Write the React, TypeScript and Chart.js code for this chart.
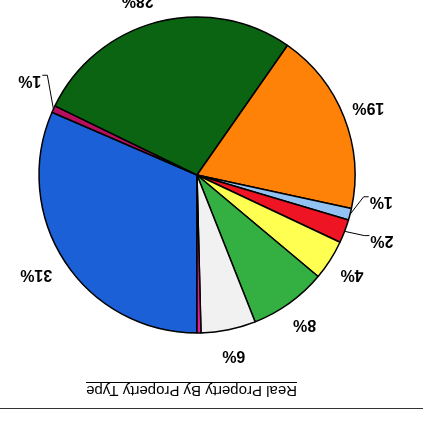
import React, { useEffect, useRef } from "react";
import { Chart, registerables } from "chart.js";

Chart.register(...registerables);

const chartTitle = "Real Property By Property Type";
const categories = [
  "Type 1", "Type 2", "Type 3", "Type 4", "Type 5",
  "Type 6", "Type 7", "Type 8", "Type 9", "Type 10",
];
const shares = [31.5, 0.7, 27.5, 18.7, 1.2, 2.4, 4.1, 7.9, 5.6, 0.4];
const pctLabels = ["31%", "1%", "28%", "19%", "1%", "2%", "4%", "8%", "6%", ""];
const sliceColors = [
  "#1b60d6", "#b8105e", "#0b6412", "#ff8208", "#92c2f2",
  "#ee1424", "#ffff52", "#33b041", "#f1f1f1", "#e0209a",
];

const FONT = '"Liberation Sans", Arial, Helvetica, sans-serif';

const labelPlugin = {
  id: "pctLabels",
  afterDatasetsDraw(chart: any, _args: any, opts: any) {
    const ctx = chart.ctx;
    const meta = chart.getDatasetMeta(0);
    ctx.save();
    ctx.font = `bold ${opts.fontSize}px ${FONT}`;
    ctx.fillStyle = "#000";
    ctx.strokeStyle = "#000";
    ctx.lineWidth = 1;
    ctx.textAlign = "center";
    ctx.textBaseline = "middle";
    meta.data.forEach((arc: any, i: number) => {
      const text = pctLabels[i];
      if (!text) return;
      const p = arc.getProps(["x", "y", "startAngle", "endAngle", "outerRadius"], true);
      const mid = (p.startAngle + p.endAngle) / 2;
      const c = Math.cos(mid);
      const s = Math.sin(mid);
      const sh = opts.shifts[i] || [0, 0];
      const tx = p.x + c * (p.outerRadius + opts.gap) + sh[0];
      const ty = p.y + s * (p.outerRadius + opts.gap) + sh[1];
      ctx.fillText(text, tx, ty);
      if (opts.leaders.includes(i)) {
        const w = ctx.measureText(text).width;
        const side = c >= 0 ? -1 : 1;
        const ex = tx + side * (w / 2 + 1);
        const ey = ty + 5;
        const bx = ex + side * 5;
        ctx.beginPath();
        ctx.moveTo(p.x + c * p.outerRadius, p.y + s * p.outerRadius);
        ctx.lineTo(bx, ey);
        ctx.lineTo(ex, ey);
        ctx.stroke();
      }
    });
    ctx.restore();
  },
};

const framePlugin = {
  id: "frame",
  afterDraw(chart: any, _args: any, opts: any) {
    const ctx = chart.ctx;
    ctx.save();
    ctx.strokeStyle = "#333";
    ctx.lineWidth = 1;
    ctx.beginPath();
    ctx.moveTo(0, opts.ruleY);
    ctx.lineTo(chart.width, opts.ruleY);
    ctx.stroke();
    ctx.font = `${opts.fontSize}px ${FONT}`;
    ctx.fillStyle = "#000";
    ctx.textAlign = "center";
    ctx.textBaseline = "alphabetic";
    ctx.fillText(chartTitle, opts.titleX, opts.titleY);
    const w = ctx.measureText(chartTitle).width;
    ctx.strokeStyle = "#000";
    ctx.beginPath();
    ctx.moveTo(opts.titleX - w / 2, opts.titleY + 3.5);
    ctx.lineTo(opts.titleX + w / 2, opts.titleY + 3.5);
    ctx.stroke();
    ctx.restore();
  },
};

export default function App() {
  const ref = useRef<HTMLCanvasElement>(null);

  useEffect(() => {
    if (!ref.current) return;
    const chart = new Chart(ref.current, {
      type: "pie",
      data: {
        labels: categories,
        datasets: [
          {
            data: shares,
            backgroundColor: sliceColors,
            borderColor: "#000",
            borderWidth: 1.5,
            radius: 158,
          } as any,
        ],
      },
      options: {
        responsive: false,
        animation: false,
        layout: { padding: { left: 56, right: 27, top: 82, bottom: 5 } },
        plugins: {
          legend: { display: false },
          title: { display: false },
          tooltip: { enabled: false },
          pctLabels: {
            fontSize: 16,
            gap: 26,
            leaders: [1, 4, 5],
            shifts: { 0: [7, 2], 1: [0, 18], 2: [13, -3], 4: [-6, 19], 5: [-13, 0] },
          },
          frame: { ruleY: 18.5, titleX: 231.5, titleY: 41, fontSize: 15 },
        } as any,
      },
      plugins: [labelPlugin, framePlugin],
    });
    return () => chart.destroy();
  }, []);

  return (
    <div
      style={{
        position: "fixed",
        left: 0,
        top: 0,
        width: 423,
        height: 427,
        background: "#fff",
        transform: "rotate(180deg)",
        transformOrigin: "50% 50%",
      }}
    >
      <canvas ref={ref} width={423} height={427} style={{ display: "block" }} />
    </div>
  );
}
